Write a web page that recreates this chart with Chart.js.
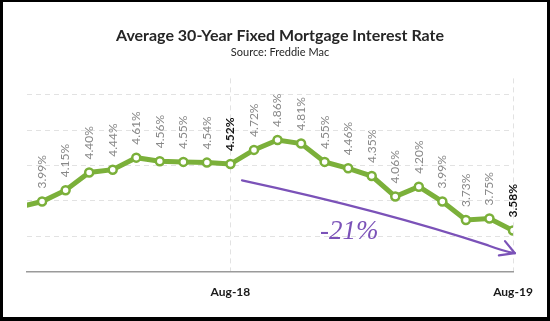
<!DOCTYPE html>
<html>
<head>
<meta charset="utf-8">
<script src="https://cdn.jsdelivr.net/npm/chart.js@4/dist/chart.umd.min.js"></script>
<style>
  html, body { margin: 0; padding: 0; background: #fff; }
  #wrap { position: relative; width: 550px; height: 321px; }
  #frame { position: absolute; left: 0; top: 0; width: 550px; height: 321px; box-sizing: border-box;
           border-style: solid; border-color: #000; border-width: 2px 3px 4px 3px; pointer-events: none; }
</style>
</head>
<body>
<div id="wrap">
  <canvas id="c" width="550" height="321"></canvas>
  <div id="frame"></div>
</div>
<script>
// ---- data ----
const months = ['Nov-17','Dec-17','Jan-18','Feb-18','Mar-18','Apr-18','May-18','Jun-18','Jul-18','Aug-18',
                'Sep-18','Oct-18','Nov-18','Dec-18','Jan-19','Feb-19','Mar-19','Apr-19','May-19','Jun-19','Jul-19','Aug-19'];
const rates = [3.91, 3.99, 4.15, 4.40, 4.44, 4.61, 4.56, 4.55, 4.54, 4.52,
               4.72, 4.86, 4.81, 4.55, 4.46, 4.35, 4.06, 4.20, 3.99, 3.73, 3.75, 3.58];
const tickMonths = ['Aug-18', 'Aug-19'];
const highlightMonths = ['Aug-18', 'Aug-19'];
const yTickValues = [3.0, 3.5, 4.0, 4.5, 5.0, 5.5];
const changeLabel = '-21%';

const GREEN = '#7bb03a';
const PURPLE = '#7b52b8';
const FONT = "Lato, 'Open Sans', sans-serif";

const points = rates.map((v, i) => ({ x: i, y: v }));

const labelPlugin = {
  id: 'pointLabels',
  afterDatasetsDraw(chart) {
    const ctx = chart.ctx;
    const area = chart.chartArea;
    const meta = chart.getDatasetMeta(0);
    meta.data.forEach((pt, i) => {
      if (pt.x < area.left - 1 || pt.x > area.right + 1) return;
      const bold = highlightMonths.includes(months[i]);
      ctx.save();
      ctx.translate(pt.x, pt.y - 13);
      ctx.rotate(-Math.PI / 2);
      ctx.font = (bold ? 'bold ' : '') + '12px ' + FONT;
      ctx.fillStyle = bold ? '#111' : '#888888';
      ctx.textAlign = 'left';
      ctx.textBaseline = 'middle';
      ctx.fillText(rates[i].toFixed(2) + '%', 0, 0);
      ctx.restore();
    });
  }
};

const arrowPlugin = {
  id: 'trendArrow',
  afterDraw(chart) {
    const xs = chart.scales.x, ys = chart.scales.y, ctx = chart.ctx;
    const P = (a, b) => [xs.getPixelForValue(a), ys.getPixelForValue(b)];
    const s = P(9.49, 4.29), c = P(15.5, 3.86), e = P(19.95, 3.37);
    const t = P(21.08, 3.26), h1 = P(20.66, 3.43), h2 = P(20.4, 3.23), k = P(20.6, 3.29);
    ctx.save();
    ctx.strokeStyle = PURPLE;
    ctx.lineWidth = 2.2;
    ctx.lineCap = 'round';
    ctx.lineJoin = 'round';
    ctx.beginPath();
    ctx.moveTo(s[0], s[1]);
    ctx.quadraticCurveTo(c[0], c[1], e[0], e[1]);
    ctx.quadraticCurveTo(k[0], k[1], t[0], t[1]);
    ctx.stroke();
    ctx.beginPath();
    ctx.moveTo(h1[0], h1[1]);
    ctx.lineTo(t[0], t[1]);
    ctx.lineTo(h2[0], h2[1]);
    ctx.stroke();
    const m = P(14.05, 3.56);
    ctx.fillStyle = PURPLE;
    ctx.font = "italic 27px 'Liberation Serif', serif";
    ctx.textAlign = 'center';
    ctx.textBaseline = 'middle';
    ctx.fillText(changeLabel, m[0], m[1]);
    ctx.restore();
  }
};

new Chart(document.getElementById('c'), {
  type: 'line',
  data: {
    datasets: [{
      data: points,
      borderColor: GREEN,
      borderWidth: 5,
      tension: 0,
      clip: 0,
      pointRadius: 4,
      pointBorderWidth: 2.5,
      pointBackgroundColor: '#fff',
      pointBorderColor: GREEN,
      pointHoverRadius: 4
    }]
  },
  options: {
    responsive: false,
    animation: false,
    events: [],
    layout: { padding: { left: 10, right: 0, top: 0, bottom: 9 } },
    plugins: {
      legend: { display: false },
      tooltip: { enabled: false },
      title: {
        display: true,
        text: 'Average 30-Year Fixed Mortgage Interest Rate',
        color: '#262626',
        font: { family: FONT, size: 16, weight: 'bold' },
        padding: { top: 26, bottom: 0 }
      },
      subtitle: {
        display: true,
        text: 'Source: Freddie Mac',
        color: '#262626',
        font: { family: FONT, size: 11 },
        padding: { top: 1, bottom: 19 }
      }
    },
    scales: {
      x: {
        type: 'linear',
        min: 0.36,
        max: 21,
        afterBuildTicks(scale) {
          scale.ticks = tickMonths.map(m => ({ value: months.indexOf(m) }));
        },
        ticks: {
          autoSkip: false,
          maxRotation: 0,
          padding: 13,
          color: '#1a1a1a',
          font: { family: FONT, size: 12, weight: 'bold' },
          callback: (v) => months[v]
        },
        grid: { color: '#e2e2e2', lineWidth: 1, drawTicks: false },
        border: { display: true, color: '#9a9a9a', width: 1.5, dash: [5, 4] }
      },
      y: {
        min: 3.0,
        max: 5.73,
        afterBuildTicks(scale) {
          scale.ticks = yTickValues.map(v => ({ value: v }));
        },
        afterFit(scale) { scale.width = 17; },
        ticks: { display: false },
        grid: {
          drawTicks: false,
          lineWidth: 1,
          color: (c) => (c.tick && c.tick.value === 3.0) ? 'rgba(0,0,0,0)' : '#e2e2e2'
        },
        border: { display: false, dash: [5, 4] }
      },
      yRight: {
        position: 'right',
        display: true,
        afterFit(scale) { scale.width = 37; },
        ticks: { display: false },
        grid: { display: false, drawTicks: false },
        border: { display: false }
      }
    }
  },
  plugins: [labelPlugin, arrowPlugin]
});
</script>
</body>
</html>
